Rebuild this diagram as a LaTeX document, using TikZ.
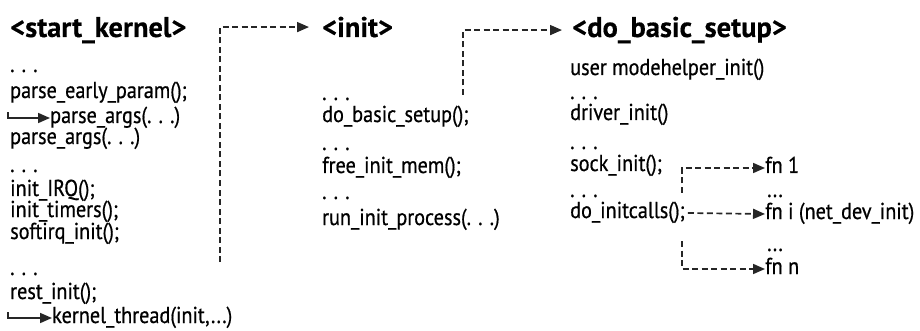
\documentclass[tikz,border=0pt]{standalone}
\usepackage{fontspec}
\setmainfont[FakeStretch=0.88,FakeBold=0.6]{PT Sans}
\newfontfamily\headfont[FakeBold=0.4]{PT Sans}
\usetikzlibrary{arrows.meta}

\begin{document}
\begin{tikzpicture}[x=1pt,y=-1pt,
    code/.style={anchor=west,inner sep=0pt,text height=15pt,text depth=5pt,
                 font=\fontsize{23}{25}\selectfont,text=black},
    dots/.style={anchor=base west,inner sep=0pt,
                 font=\fontsize{23}{25}\selectfont,text=black},
    title/.style={anchor=base west,inner sep=0pt,
                  font=\headfont\fontsize{28.5}{30}\selectfont\bfseries,text=black},
    call/.style={draw=black!85,line width=1.7pt,dash pattern=on 6pt off 3.5pt,
                 -{Triangle[length=12pt,width=10pt]}},
    hook/.style={draw=black!85,line width=1.7pt,
                 -{Triangle[length=12pt,width=10pt]}}]

    \useasboundingbox (0,0) rectangle (920,331);

    % start_kernel
    \node[title] (kern) at (10,37) {<start\_kernel>};
    \node[dots] (kd1) at (10,72) {. . .};
    \node[code] (pep) at (10,93) {parse\_early\_param();};
    \node[code] (pa1) at (50,118) {parse\_args(. . .)};
    \node[code] (pa2) at (10,139) {parse\_args(. . .)};
    \node[dots] (kd2) at (10,172) {. . .};
    \node[code] (irq) at (10,191) {init\_IRQ();};
    \node[code] (tim) at (10,212) {init\_timers();};
    \node[code] (soft) at (10,234) {softirq\_init();};
    \node[dots] (kd3) at (10,275) {. . .};
    \node[code] (rest) at (10,294) {rest\_init();};
    \node[code] (kt) at (52,318) {kernel\_thread(init,...)};

    % init
    \node[title] (init) at (322,37) {<init>};
    \node[dots] (id1) at (322,100) {. . .};
    \node[code] (dbs) at (322,117) {do\_basic\_setup();};
    \node[dots] (id2) at (322,150) {. . .};
    \node[code] (fim) at (322,168) {free\_init\_mem();};
    \node[dots] (id3) at (322,199) {. . .};
    \node[code] (rip) at (322,220) {run\_init\_process(. . .)};

    % do_basic_setup
    \node[title] (setup) at (572,37) {<do\_basic\_setup>};
    \node[code] (umh) at (570,70) {user modehelper\_init()};
    \node[dots] (sd1) at (570,99) {. . .};
    \node[code] (drv) at (570,115) {driver\_init()};
    \node[dots] (sd2) at (570,149) {. . .};
    \node[code] (sock) at (570,166) {sock\_init();};
    \node[dots] (sd3) at (570,197) {. . .};
    \node[code] (ic) at (570,213) {do\_initcalls();};

    % initcalls
    \node[code] (fn1) at (765,168) {fn 1};
    \node[dots] (fd1) at (767,197) {...};
    \node[code] (fni) at (765,214) {fn i (net\_dev\_init)};
    \node[dots] (fd2) at (767,251) {...};
    \node[code] (fnn) at (765,269) {fn n};

    \coordinate (skv) at (220,262);
    \coordinate (trunk) at (682,213);

    \draw[hook] ([xshift=-2pt,yshift=-9pt]pep.south west) |- (pa1.west);
    \draw[hook] ([xshift=-2pt,yshift=-8pt]rest.south west) |- (kt.west);

    \draw[call] (skv) |- ([xshift=-13pt]init.west);
    \draw[call] ([xshift=-6pt,yshift=12pt]dbs.north east) |- ([xshift=-10pt]setup.west);

    \draw[call] ([yshift=10pt]ic.north -| trunk) |- (fn1.west);
    \draw[call] ([xshift=3pt]ic.east) -- (fni.west);
    \draw[call] ([yshift=-18pt]ic.south -| trunk) |- (fnn.west);

\end{tikzpicture}
\end{document}
